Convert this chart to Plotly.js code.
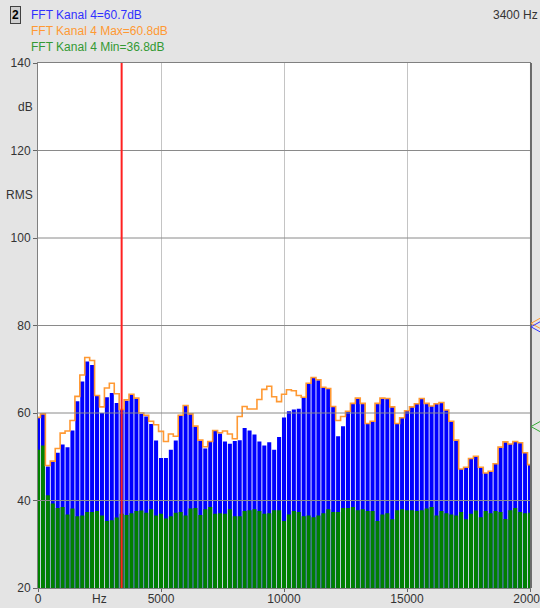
<!DOCTYPE html>
<html>
<head>
<meta charset="utf-8">
<script src="https://cdn.plot.ly/plotly-3.0.1.min.js"></script>
<style>html,body{margin:0;padding:0;background:#e4e4e4;overflow:hidden;}#chart{width:540px;height:608px;}</style>
</head>
<body>
<div id="chart"></div>
<script>
// Frequency bins (Hz), 200 Hz spacing
const freqs = [0,200,400,600,800,1000,1200,1400,1600,1800,2000,2200,2400,2600,2800,3000,3200,3400,3600,3800,
4000,4200,4400,4600,4800,5000,5200,5400,5600,5800,6000,6200,6400,6600,6800,7000,7200,7400,7600,7800,
8000,8200,8400,8600,8800,9000,9200,9400,9600,9800,10000,10200,10400,10600,10800,11000,11200,11400,11600,11800,
12000,12200,12400,12600,12800,13000,13200,13400,13600,13800,14000,14200,14400,14600,14800,15000,15200,15400,15600,15800,
16000,16200,16400,16600,16800,17000,17200,17400,17600,17800,18000,18200,18400,18600,18800,19000,19200,19400,19600,19800,20000];

// Current FFT level (dB)
const currentDb = [59.0,59.8,47.8,48.8,50.9,52.8,52.2,56.0,62.7,67.2,71.8,71.0,64.0,60.0,63.6,64.6,62.3,60.8,62.8,64.2,
63.4,59.8,59.2,57.5,53.7,49.7,49.7,51.6,53.7,59.5,61.7,59.8,56.9,53.8,51.9,53.5,56.0,55.3,53.5,53.0,
53.6,53.8,56.6,56.0,55.1,53.5,52.6,53.3,51.6,54.5,59.0,60.4,60.8,61.0,63.6,66.8,68.0,67.5,65.9,65.5,
61.5,54.7,57.0,60.4,62.2,63.4,62.2,57.6,58.1,62.2,63.4,63.3,61.4,57.6,58.9,60.5,61.4,62.1,63.3,62.2,
61.6,62.1,62.4,60.7,58.1,53.8,47.2,47.6,49.6,50.1,47.6,46.3,46.7,48.4,52.2,53.4,52.9,53.5,53.2,50.9,48.2];

// Max hold (dB)
const maxDb = [59.0,59.8,48.0,49.0,51.9,55.4,55.9,58.3,63.8,68.7,72.7,72.0,64.0,61.4,65.7,66.8,64.4,60.8,63.0,64.3,
63.4,60.0,59.5,58.1,57.3,55.8,53.5,55.2,54.7,59.5,61.7,59.8,57.0,53.8,52.3,53.5,56.0,55.5,55.9,55.2,
54.1,59.2,61.5,60.9,60.9,63.1,65.4,66.1,63.7,62.6,64.3,65.3,65.1,64.0,63.6,66.8,68.1,67.6,65.9,65.6,
61.5,58.3,59.2,60.4,62.2,63.4,62.2,57.6,58.1,62.2,63.4,63.3,61.4,57.6,58.9,60.5,61.4,62.1,63.3,62.2,
61.6,62.1,62.4,60.7,58.1,53.8,47.2,47.6,49.6,50.1,47.6,46.3,46.7,48.4,52.2,53.4,52.9,53.5,53.2,50.9,48.2];

// Min hold (dB)
const minDb = [51.6,52.6,41.2,39.3,38.3,38.5,36.8,38.2,36.4,36.6,37.4,37.4,37.6,36.6,35.3,35.5,36.1,37.0,36.7,37.1,
37.6,37.7,37.2,38.0,36.6,37.0,35.9,36.4,37.2,37.4,36.6,38.2,38.3,36.7,38.0,38.5,37.0,37.1,37.0,38.0,
36.4,36.4,37.6,37.8,38.0,37.6,37.0,37.1,37.8,37.8,35.3,36.8,37.6,37.4,36.4,36.6,36.2,36.6,37.1,38.0,
37.4,37.4,38.3,38.3,38.5,37.8,38.0,37.6,37.6,35.3,36.8,37.1,35.7,37.8,38.0,37.8,37.8,37.6,37.8,38.2,
38.5,36.6,37.6,37.1,36.8,36.6,37.4,35.7,37.0,37.7,36.2,37.6,37.1,37.6,37.4,35.8,37.8,38.3,37.4,37.1,37.2];

const yTicks = [20,40,60,80,100,120,140];
const xTicks = [0,5000,10000,15000,20000];
const xTickText = ['0','5000','10000','15000','20000'];
const cursorHz = 3400;
const legendLines = ['FFT Kanal 4=60.7dB','FFT Kanal 4 Max=60.8dB','FFT Kanal 4 Min=36.8dB'];
// right-edge level indicators (dB): max, current, min
const indicatorDb = [80.5, 79.7, 56.9];

const W = 540, H = 608, L = 38, R = 10, T = 63, B = 20;
const pw = W - L - R, ph = H - T - B;
const px = x => (x - L) / pw;
const py = y => (H - B - y) / ph;
const yMin = 20, yMax = 140;
const dbToPaper = v => (v - yMin) / (yMax - yMin);

const cBlue = '#0000ff', cOrange = '#ff9933', cGreen = '#008000';
const font = 'Liberation Sans, Arial, sans-serif';

const traces = [
  {type:'bar', x:freqs, y:currentDb, marker:{color:cBlue, line:{width:0}}, hoverinfo:'skip'},
  {type:'bar', x:freqs, y:minDb, marker:{color:cGreen, line:{width:0}}, hoverinfo:'skip'},
  {type:'scatter', mode:'lines', x:freqs, y:maxDb, line:{color:cOrange, width:1.6, shape:'hvh'}, hoverinfo:'skip'}
];

const shapes = [];
yTicks.filter(v => v > yMin && v < yMax).forEach(v => {
  shapes.push({type:'line', xref:'paper', yref:'y', x0:0, x1:1, y0:v, y1:v, layer:'above', line:{color:'#8a8a8a', width:1}});
});
shapes.push({type:'line', xref:'x', yref:'paper', x0:cursorHz, x1:cursorHz, y0:0, y1:1, layer:'above', line:{color:'#ff2020', width:2}});
shapes.push({type:'line', xref:'paper', yref:'paper', x0:1.002, x1:1.002, y0:0, y1:1, layer:'above', line:{color:'#6a6a6a', width:2}});
const indColors = [cOrange, '#3333ff', '#33aa33'];
indicatorDb.forEach((v, i) => {
  const yp = dbToPaper(v), d = 5 / ph;
  shapes.push({type:'path', xref:'paper', yref:'paper', layer:'above',
    path:`M ${px(540)},${yp + d} L ${px(531)},${yp} L ${px(540)},${yp - d}`,
    line:{color:indColors[i], width:1}});
});

const legendColors = ['#3030ff', '#ff9933', '#339933'];
const legendY = [15, 31, 47];
const annotations = legendLines.map((t, i) => ({
  text:t, xref:'paper', yref:'paper', x:px(29), y:py(legendY[i]), xanchor:'left', yanchor:'middle',
  showarrow:false, font:{family:font, size:12, color:legendColors[i]}
}));
annotations.push({text:'<b>2</b>', xref:'paper', yref:'paper', x:px(15), y:py(15), xanchor:'center', yanchor:'middle',
  showarrow:false, bgcolor:'#cfcfcf', bordercolor:'#404040', borderwidth:1, borderpad:1,
  font:{family:font, size:12, color:'#000'}});
annotations.push({text:'3400 Hz', xref:'paper', yref:'paper', x:px(540), y:py(15), xanchor:'right', yanchor:'middle',
  showarrow:false, font:{family:font, size:12, color:'#333'}});
annotations.push({text:'dB', xref:'paper', yref:'paper', x:px(35), y:py(107), xanchor:'right', yanchor:'middle',
  showarrow:false, font:{family:font, size:12, color:'#333'}});
annotations.push({text:'RMS', xref:'paper', yref:'paper', x:px(35), y:py(195), xanchor:'right', yanchor:'middle',
  showarrow:false, font:{family:font, size:12, color:'#333'}});
annotations.push({text:'Hz', xref:'paper', yref:'paper', x:px(99), y:py(599), xanchor:'center', yanchor:'middle',
  showarrow:false, font:{family:font, size:12, color:'#333'}});

const layout = {
  width:W, height:H,
  margin:{l:L, r:R, t:T, b:B, pad:0},
  paper_bgcolor:'#e4e4e4', plot_bgcolor:'#ffffff',
  showlegend:false, barmode:'overlay', bargap:0.18,
  font:{family:font, size:12, color:'#333'},
  xaxis:{range:[0,20000], tickmode:'array', tickvals:xTicks, ticktext:xTickText,
    ticks:'outside', ticklen:3, tickcolor:'#666', ticklabelstandoff:-3, ticklabeloverflow:'allow',
    showgrid:true, gridcolor:'#c4c4c4', gridwidth:1,
    showline:true, linecolor:'#808080', linewidth:1, mirror:true, zeroline:false, automargin:false,
    tickfont:{family:font, size:12, color:'#333'}, fixedrange:true},
  yaxis:{range:[yMin,yMax], tickmode:'array', tickvals:yTicks, ticks:'outside', ticklen:4, tickcolor:'#666',
    showgrid:false, showline:true, linecolor:'#808080', linewidth:1, mirror:true, zeroline:false, automargin:false,
    tickfont:{family:font, size:12, color:'#333'}, fixedrange:true},
  shapes:shapes, annotations:annotations
};

Plotly.newPlot('chart', traces, layout, {staticPlot:true, displayModeBar:false});
</script>
</body>
</html>
